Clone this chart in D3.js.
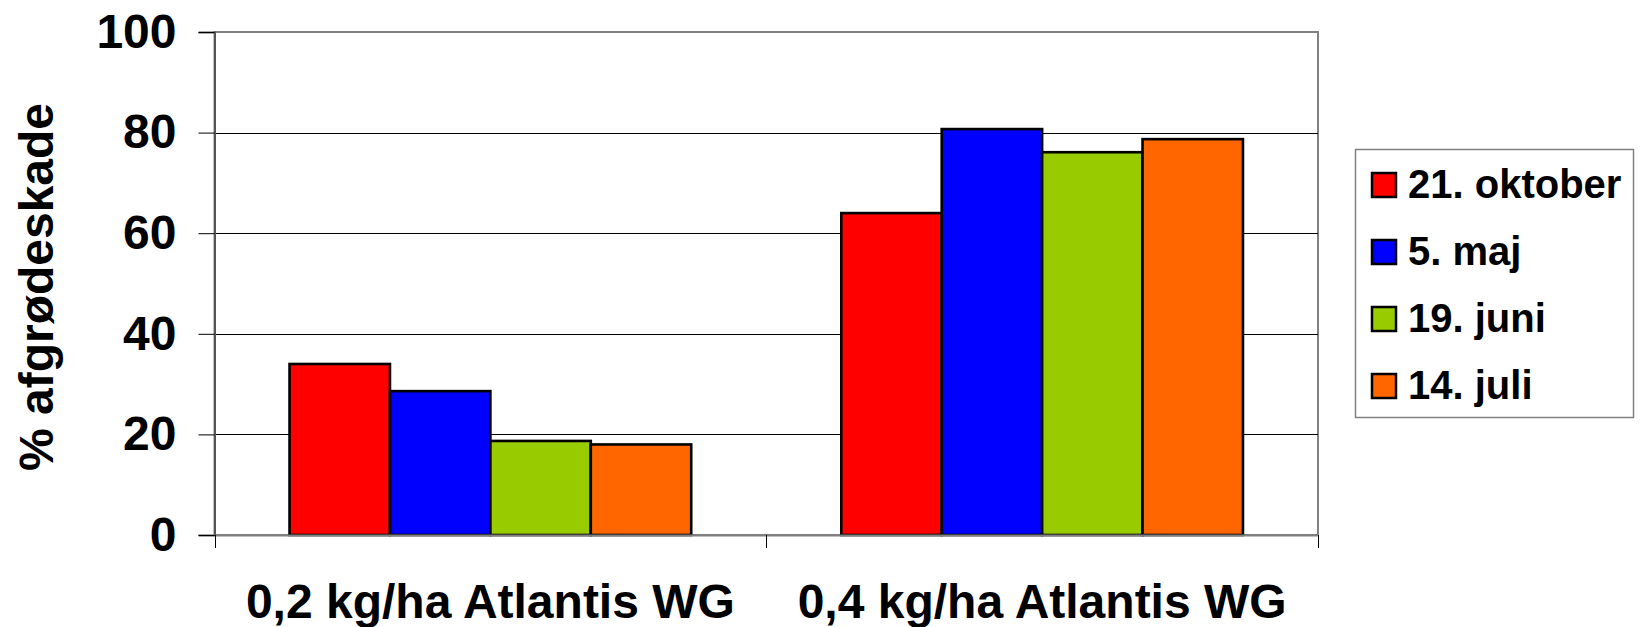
<!DOCTYPE html>
<html>
<head>
<meta charset="utf-8">
<script src="https://cdn.jsdelivr.net/npm/d3@7"></script>
<style>
  html, body { margin: 0; padding: 0; background: #fff; }
  svg { display: block; font-family: "Liberation Sans", Arial, sans-serif; font-weight: bold; }
</style>
</head>
<body>
<svg id="chart" width="1641" height="627"></svg>
<script>
// ---- data ----
const categories = ["0,2 kg/ha Atlantis WG", "0,4 kg/ha Atlantis WG"];
const seriesNames = ["21. oktober", "5. maj", "19. juni", "14. juli"];
const seriesColors = ["#FF0000", "#0000FF", "#99CC00", "#FF6600"];
const oktoberValues = [34.0, 64.0];
const majValues = [28.6, 80.7];
const juniValues = [18.7, 76.1];
const juliValues = [18.0, 78.7];
const yTicks = [0, 20, 40, 60, 80, 100];
const yLabel = "% afgrødeskade";

const seriesValues = [oktoberValues, majValues, juniValues, juliValues];

// ---- layout ----
const svg = d3.select("#chart");
const plot = { left: 214.5, right: 1318, top: 32, bottom: 535 };

const x0 = d3.scaleBand().domain(categories).range([plot.left, plot.right]);
const bw = x0.bandwidth();
const gap = bw * 0.136;
const x1 = d3.scaleBand().domain(seriesNames).range([gap, bw - gap]);
const y = d3.scaleLinear().domain([0, 100]).range([plot.bottom, plot.top]);

// plot area border
svg.append("rect")
  .attr("x", plot.left).attr("y", plot.top)
  .attr("width", plot.right - plot.left).attr("height", plot.bottom - plot.top)
  .attr("fill", "#fff").attr("stroke", "#808080").attr("stroke-width", 2);

// gridlines
svg.append("g").selectAll("line")
  .data(yTicks.filter(d => d > 0 && d < 100))
  .join("line")
  .attr("x1", plot.left).attr("x2", plot.right)
  .attr("y1", d => Math.round(y(d)) + 0.5).attr("y2", d => Math.round(y(d)) + 0.5)
  .attr("stroke", "#000").attr("stroke-width", 1);

// bars
const groups = svg.append("g").selectAll("g")
  .data(categories)
  .join("g")
  .attr("transform", d => `translate(${x0(d)},0)`);

groups.selectAll("rect")
  .data((c, ci) => seriesNames.map((s, si) => ({ s, si, v: seriesValues[si][ci] })))
  .join("rect")
  .attr("x", d => x1(d.s))
  .attr("width", x1.bandwidth())
  .attr("y", d => y(d.v))
  .attr("height", d => y(0) - y(d.v))
  .attr("fill", d => seriesColors[d.si])
  .attr("stroke", "#000")
  .attr("stroke-width", 2.6);

// y axis
const yAxis = d3.axisLeft(y).tickValues(yTicks).tickSize(16).tickPadding(22).tickFormat(d3.format("d"));
const gy = svg.append("g").attr("transform", `translate(${plot.left},0)`).call(yAxis);
gy.select(".domain").attr("stroke", "#555").attr("stroke-width", 2);
gy.selectAll(".tick line").attr("stroke", "#000").attr("stroke-width", 1);
gy.selectAll(".tick text")
  .attr("font-size", 48).attr("font-weight", "bold")
  .attr("font-family", '"Liberation Sans", Arial, sans-serif')
  .attr("fill", "#000").attr("dy", "0.32em");

// x axis
const xAxis = d3.axisBottom(x0).tickSize(0).tickPadding(0);
const gx = svg.append("g").attr("transform", `translate(0,${plot.bottom})`).call(xAxis);
gx.select(".domain").attr("stroke", "#808080").attr("stroke-width", 2);
gx.selectAll(".tick text")
  .attr("font-size", 48).attr("font-weight", "bold")
  .attr("font-family", '"Liberation Sans", Arial, sans-serif')
  .attr("fill", "#000").attr("dy", null).attr("y", 83);
// x tick marks at band boundaries
const boundaries = categories.map(c => x0(c)).concat([x0(categories[categories.length - 1]) + bw]);
svg.append("g").selectAll("line")
  .data(boundaries)
  .join("line")
  .attr("x1", d => Math.round(d) + 0.5).attr("x2", d => Math.round(d) + 0.5)
  .attr("y1", plot.bottom).attr("y2", plot.bottom + 13)
  .attr("stroke", "#000").attr("stroke-width", 1);

// y label
svg.append("text")
  .attr("transform", `translate(53,287) rotate(-90)`)
  .attr("text-anchor", "middle")
  .attr("font-size", 48)
  .attr("fill", "#000")
  .text(yLabel);

// legend
const legend = svg.append("g");
legend.append("rect")
  .attr("x", 1355.5).attr("y", 149.5).attr("width", 278).attr("height", 268)
  .attr("fill", "#fff").attr("stroke", "#808080").attr("stroke-width", 1.5);
const rowY = d3.scalePoint().domain(seriesNames).range([185, 386]);
const items = legend.selectAll("g.item").data(seriesNames).join("g").attr("class", "item");
items.append("rect")
  .attr("x", 1372).attr("y", d => rowY(d) - 12)
  .attr("width", 24).attr("height", 24)
  .attr("fill", (d, i) => seriesColors[i])
  .attr("stroke", "#000").attr("stroke-width", 2.5);
items.append("text")
  .attr("x", 1408).attr("y", d => rowY(d) + 12.5)
  .attr("font-size", 40).attr("fill", "#000")
  .text(d => d);
</script>
</body>
</html>
